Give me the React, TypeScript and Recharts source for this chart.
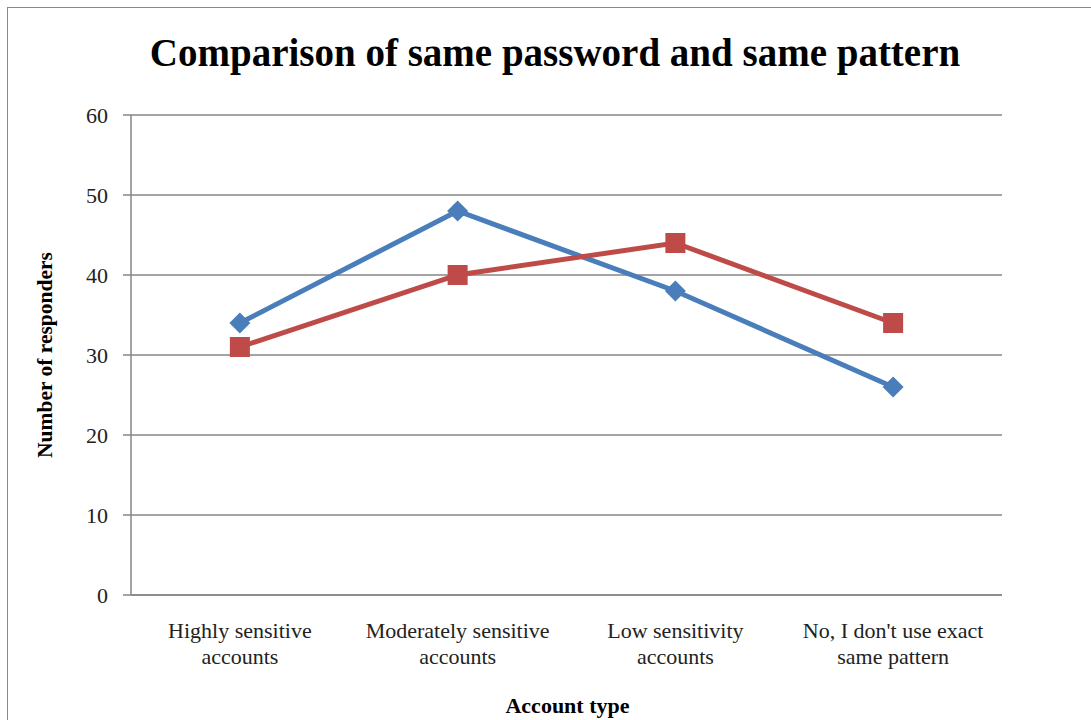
import { LineChart, Line, XAxis, YAxis, CartesianGrid } from 'recharts';

const categories = [
  'Highly sensitive accounts',
  'Moderately sensitive accounts',
  'Low sensitivity accounts',
  "No, I don't use exact same pattern",
];
const tickLines: Record<string, string[]> = {
  'Highly sensitive accounts': ['Highly sensitive', 'accounts'],
  'Moderately sensitive accounts': ['Moderately sensitive', 'accounts'],
  'Low sensitivity accounts': ['Low sensitivity', 'accounts'],
  "No, I don't use exact same pattern": ["No, I don't use exact", 'same pattern'],
};
const samePassword = [34, 48, 38, 26];
const samePattern = [31, 40, 44, 34];
const yTicks = [0, 10, 20, 30, 40, 50, 60];

const data = categories.map((name, i) => ({
  name,
  samePassword: samePassword[i],
  samePattern: samePattern[i],
}));

const BLUE = '#4A7EBB';
const RED = '#BE4B48';
const GRID = '#868686';
const FONT = '"Liberation Serif", "Times New Roman", serif';

function Diamond(props: any) {
  const { cx, cy } = props;
  if (cx == null || cy == null) return null;
  const r = 10.5;
  return (
    <polygon
      points={`${cx},${cy - r} ${cx + r},${cy} ${cx},${cy + r} ${cx - r},${cy}`}
      fill={BLUE}
    />
  );
}

function Square(props: any) {
  const { cx, cy } = props;
  if (cx == null || cy == null) return null;
  const h = 10;
  return <rect x={cx - h} y={cy - h} width={h * 2} height={h * 2} fill={RED} />;
}

function CategoryTick(props: any) {
  const { x, y, payload } = props;
  const lines = tickLines[payload.value] || [payload.value];
  return (
    <text x={x} y={y} textAnchor="middle" fontFamily={FONT} fontSize={22} fill="#222">
      {lines.map((l, i) => (
        <tspan key={i} x={x} dy={i === 0 ? 35 : 26}>
          {l}
        </tspan>
      ))}
    </text>
  );
}

export default function App() {
  return (
    <div
      style={{
        position: 'absolute',
        left: 7,
        top: 7,
        width: 1083,
        height: 712,
        borderLeft: '1px solid #8a8a8a',
        borderTop: '1px solid #8a8a8a',
        background: '#fff',
        overflow: 'hidden',
      }}
    >
      <LineChart
        width={1083}
        height={712}
        data={data}
        margin={{ top: 107, right: 89, bottom: 0, left: 0 }}
      >
        <text
          x={547}
          y={58}
          textAnchor="middle"
          fontFamily={FONT}
          fontWeight="bold"
          fontSize={39}
          fill="#000"
        >
          Comparison of same password and same pattern
        </text>
        <CartesianGrid vertical={false} stroke={GRID} strokeWidth={1.5} />
        <XAxis
          dataKey="name"
          scale="band"
          height={125}
          axisLine={{ stroke: GRID, strokeWidth: 1.5 }}
          tickLine={false}
          interval={0}
          tick={<CategoryTick />}
          label={{
            content: ({ viewBox }: any) => (
              <text
                x={viewBox.x + viewBox.width / 2 + 1}
                y={viewBox.y + 118}
                textAnchor="middle"
                fontFamily={FONT}
                fontWeight="bold"
                fontSize={22}
                fill="#000"
              >
                Account type
              </text>
            ),
          }}
        />
        <YAxis
          width={123}
          domain={[0, 60]}
          ticks={yTicks}
          axisLine={{ stroke: GRID, strokeWidth: 1.5 }}
          tickLine={{ stroke: GRID, strokeWidth: 1.5 }}
          tickSize={8}
          tickMargin={15}
          tick={{ fontFamily: FONT, fontSize: 22, fill: '#222' }}
          label={{
            content: ({ viewBox }: any) => {
              const cx = 37;
              const cy = viewBox.y + viewBox.height / 2;
              return (
                <text
                  x={cx}
                  y={cy}
                  transform={`rotate(-90 ${cx} ${cy})`}
                  textAnchor="middle"
                  dominantBaseline="central"
                  fontFamily={FONT}
                  fontWeight="bold"
                  fontSize={21.5}
                  fill="#000"
                >
                  Number of responders
                </text>
              );
            },
          }}
        />
        <Line
          dataKey="samePassword"
          stroke={BLUE}
          strokeWidth={5}
          dot={<Diamond />}
          activeDot={false}
          isAnimationActive={false}
        />
        <Line
          dataKey="samePattern"
          stroke={RED}
          strokeWidth={5}
          dot={<Square />}
          activeDot={false}
          isAnimationActive={false}
        />
      </LineChart>
    </div>
  );
}
